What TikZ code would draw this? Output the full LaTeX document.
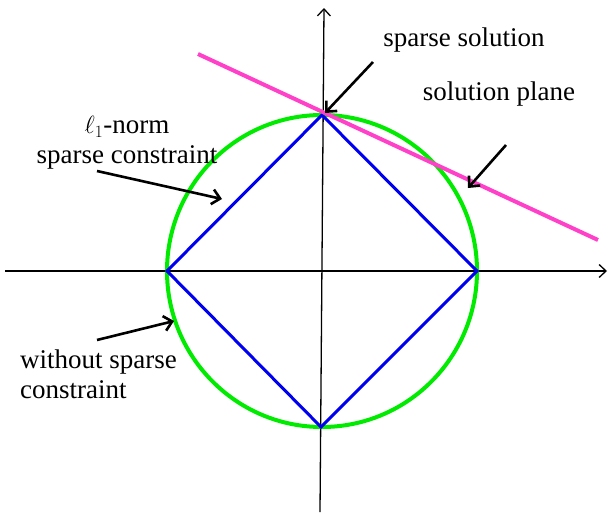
\documentclass[tikz,border=0pt]{standalone}
\usepackage{fontspec}
\setmainfont{Liberation Serif}
\usetikzlibrary{arrows.meta}
\begin{document}
\begin{tikzpicture}[x=1pt,y=-1pt,
  axis/.style={line width=1.3pt,-{Straight Barb[length=7pt,width=13pt,line width=1.3pt]}},
  pointer/.style={line width=2.6pt,-{Straight Barb[length=8pt,width=15pt,line width=2.6pt]}},
  lbl/.style={inner sep=0pt,font=\fontsize{27}{30}\selectfont},
]
\useasboundingbox (0,0) rectangle (608,514);
% axes
\coordinate (xs) at (5,271);
\coordinate (xe) at (607,271);
\coordinate (ys) at (320,512);
\coordinate (ye) at (324,8);
\draw[axis] (xs) -- (xe);
\draw[axis] (ys) -- (ye);
% ellipse
\coordinate (o) at (322,271);
\draw[line width=4pt,color={rgb,255:red,0;green,235;blue,0}] (o) ellipse [x radius=155,y radius=156];
% diamond
\coordinate (dt) at (322,115);
\coordinate (dr) at (477,271);
\coordinate (db) at (321,427);
\coordinate (dl) at (167,271);
\draw[line width=3pt,color={rgb,255:red,0;green,0;blue,240},line join=miter] (dt) -- (dr) -- (db) -- (dl) -- cycle;
% solution plane
\coordinate (ps) at (198,54);
\coordinate (pe) at (598,240);
\draw[line width=4pt,color={rgb,255:red,255;green,64;blue,200}] (ps) -- (pe);
% labels
\node[lbl] (ss) at (464,40) {sparse solution};
\node[lbl] (sp) at (499,94) {solution plane};
\node[lbl,align=center] (l1) at (127,143) {$\ell_1$-norm\\sparse constraint};
\node[lbl,align=left,anchor=west] (wo) at (20,374) {without sparse\\constraint};
% pointers
\coordinate (a1s) at (373,62);  \coordinate (a1e) at (325,113);
\coordinate (a2s) at (506,145); \coordinate (a2e) at (468,188);
\coordinate (a3s) at (97,171);  \coordinate (a3e) at (222,199);
\coordinate (a4s) at (97,340);  \coordinate (a4e) at (174,321);
\draw[pointer] (a1s) -- (a1e);
\draw[pointer] (a2s) -- (a2e);
\draw[pointer] (a3s) -- (a3e);
\draw[pointer] (a4s) -- (a4e);
\end{tikzpicture}
\end{document}
